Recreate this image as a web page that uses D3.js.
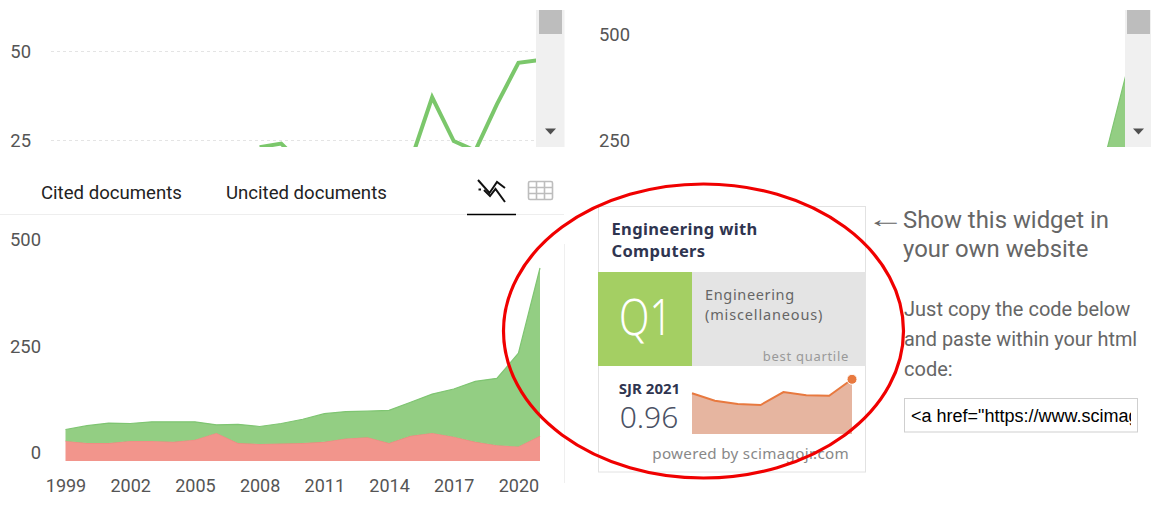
<!DOCTYPE html>
<html><head><meta charset="utf-8">
<script src="https://cdn.jsdelivr.net/npm/d3@7"></script>
<style>
html,body{margin:0;padding:0;background:#fff;overflow:hidden}
svg{display:block}
text{font-family:Roboto,sans-serif}
.w{font-family:"Noto Sans",sans-serif}
</style></head><body>
<svg id="c" width="1151" height="506"></svg>
<script>
const years=[1999,2000,2001,2002,2003,2004,2005,2006,2007,2008,2009,2010,2011,2012,2013,2014,2015,2016,2017,2018,2019,2020,2021];
const uncited=[47,42,42,47,47,45,50,66,42,40,41,42,45,53,56,42,59,66,57,45,37,34,59];
const cited=[27,41,47,41,45,47,42,19,44,41,47,56,66,63,61,77,79,91,112,142,157,219,394];
const yearTicks=[1999,2002,2005,2008,2011,2014,2017,2020];
const collabYears=[2008,2009,2010,2011,2012,2013,2014,2015,2016,2017,2018,2019,2020,2021];
const collabValues=[23,24,18,18,19,20,17,19,37,24.7,22,35,46.7,47.5];
const collabTicks=[25,50];
const docTicks=[0,250,500];
const sjrYears=[2014,2015,2016,2017,2018,2019,2020,2021];
const sjrValues=[0.714,0.585,0.526,0.509,0.737,0.68,0.67,0.96];
const tabs=["Cited documents","Uncited documents"];

const svg=d3.select("#c");
const defs=svg.append("defs");
const x=d3.scaleLinear().domain([1999,2021]).range([65.5,540]);
const y=d3.scaleLinear().domain([0,500]).range([461,248]);
const rows=years.map((yr,i)=>({yr,uncited:uncited[i],cited:cited[i]}));
const stack=d3.stack().keys(["uncited","cited"])(rows);
const area=d3.area().x(d=>x(d.data.yr)).y0(d=>y(d[0])).y1(d=>y(d[1]));
const topLine=d3.line().x(d=>x(d.data.yr)).y(d=>y(d[1]));
const colors={uncited:["#f2958c","#ee8a80"],cited:["#93ce83","#7fc572"]};

function drawStack(g){
  stack.forEach(s=>{
    g.append("path").datum(s).attr("d",area).attr("fill",colors[s.key][0]);
    g.append("path").datum(s).attr("d",topLine).attr("fill","none").attr("stroke",colors[s.key][1]).attr("stroke-width",1.2);
  });
}
function yAxis(g,scale,ticks){
  g.call(d3.axisLeft(scale).tickValues(ticks).tickSize(0).tickFormat(d3.format("d")));
  g.select(".domain").remove();
  g.selectAll("text").attr("x",0).attr("dy","0.36em").attr("text-anchor","end")
    .attr("fill","#555").style("font-family","Roboto,sans-serif").style("font-size","18.4px");
}
function scrollbar(x0,x1,thumb0,thumb1){
  svg.append("rect").attr("x",x0).attr("y",10).attr("width",x1-x0).attr("height",137).attr("fill","#f0f0f0");
  svg.append("rect").attr("x",thumb0).attr("y",10).attr("width",thumb1-thumb0).attr("height",24).attr("fill","#bdbdbd");
  const c=(thumb0+thumb1)/2;
  svg.append("path").attr("d",`M${c-5.5} 128.5H${c+5.5}L${c} 134.5Z`).attr("fill","#505050");
}

/* top-left partial line chart */
const yTop=d3.scaleLinear().domain([25,50]).range([140,51]);
const tl=svg.append("g");
tl.selectAll("line").data(collabTicks).join("line")
  .attr("x1",51).attr("x2",536).attr("y1",d=>yTop(d)+.5).attr("y2",d=>yTop(d)+.5)
  .attr("stroke","#e4e4e4").attr("stroke-dasharray","3 3");
defs.append("clipPath").attr("id","cl").append("rect").attr("x",0).attr("y",0).attr("width",536).attr("height",147);
tl.append("path").attr("clip-path","url(#cl)")
  .attr("d",d3.line().x((d,i)=>x(collabYears[i])).y(d=>yTop(d))(collabValues))
  .attr("fill","none").attr("stroke","#7bc76b").attr("stroke-width",4);
yAxis(svg.append("g").attr("transform","translate(31,0)"),yTop,collabTicks);
scrollbar(536,564.5,539,562);

/* top-right partial area chart */
defs.append("clipPath").attr("id","cr").append("rect").attr("x",0).attr("y",0).attr("width",1125).attr("height",147);
const tr=svg.append("g").attr("clip-path","url(#cr)").append("g").attr("transform","translate(589,-205.5)");
drawStack(tr);
yAxis(svg.append("g").attr("transform","translate(630,-214.5)"),y,[250,500]);
scrollbar(1125,1151,1127,1150);

/* tabs */
const tabX=[41,226];
svg.selectAll(".tab").data(tabs).join("text").attr("class","tab")
  .attr("x",(d,i)=>tabX[i]).attr("y",199).attr("fill","#222").style("font-size","18.6px").text(d=>d);
svg.append("line").attr("x1",0).attr("x2",564).attr("y1",214.5).attr("y2",214.5).attr("stroke","#eeeeee");
svg.append("line").attr("x1",467).attr("x2",516).attr("y1",214.5).attr("y2",214.5).attr("stroke","#000").attr("stroke-width",1.4);
const ic=svg.append("g").attr("fill","none").attr("stroke","#111").attr("stroke-width",2);
ic.append("path").attr("d","M478 180L489.5 193L497 182L505 188");
ic.append("path").attr("d","M484 190L490 196L495.5 189L505 202");
ic.append("path").attr("d","M478.5 189.5H481");
const gi=svg.append("g").attr("fill","none").attr("stroke","#bdbdbd").attr("stroke-width",1.6);
gi.append("rect").attr("x",528.5).attr("y",181.5).attr("width",24).attr("height",18).attr("rx",1.5);
gi.append("path").attr("d","M528.5 187.5H552.5M528.5 193.5H552.5M536.5 181.5V199.5M544.5 181.5V199.5");

/* bottom full chart */
drawStack(svg.append("g"));
yAxis(svg.append("g").attr("transform","translate(41,-9)"),y,docTicks);
const xa=svg.append("g").attr("transform","translate(0,475)")
  .call(d3.axisBottom(x).tickValues(yearTicks).tickSize(0).tickFormat(d3.format("d")));
xa.select(".domain").remove();
xa.selectAll("text").attr("y",0).attr("dy","0.95em").attr("fill","#555").style("font-family","Roboto,sans-serif").style("font-size","18px");
svg.append("line").attr("x1",564.5).attr("x2",564.5).attr("y1",244).attr("y2",483).attr("stroke","#efefef");

/* widget */
const w=svg.append("g");
w.append("rect").attr("x",598.5).attr("y",206.5).attr("width",267).attr("height",265.5).attr("fill","#fff").attr("stroke","#e2e2e2");
w.append("rect").attr("x",598).attr("y",272).attr("width",94).attr("height",94).attr("fill","#a4cf63");
w.append("rect").attr("x",692).attr("y",272).attr("width",174).attr("height",94).attr("fill","#e4e4e4");
const wt=(s,xx,yy,size,fill,weight,anchor,ls)=>w.append("text").attr("class","w").attr("x",xx).attr("y",yy).attr("fill",fill)
  .attr("text-anchor",anchor||"start").style("font-size",size+"px").style("font-weight",weight||400).style("letter-spacing",(ls||0)+"px").text(s);
wt("Engineering with",611.5,235,16.5,"#2f3550",700,"start",.35);
wt("Computers",611.5,257,16.5,"#2f3550",700,"start",.35);
wt("Q1",619,335,49,"#fff",300).attr("textLength",53).attr("lengthAdjust","spacingAndGlyphs");
wt("Engineering",705,300,14.5,"#666",400,"start",.65);
wt("(miscellaneous)",705,320,14.5,"#666",400,"start",.85);
wt("best quartile",849,361,13,"#999",400,"end",.7);
wt("SJR 2021",649.5,394,15,"#2f3550",700,"middle");
wt("0.96",649,428,30,"#4a5164",300,"middle");
wt("powered by scimagojr.com",849,459,15.2,"#888",400,"end",.3);
const sx=d3.scalePoint().domain(sjrYears).range([692,852]);
const sy=d3.scaleLinear().domain([0,0.96]).range([434,379.3]);
w.append("path").attr("d",d3.area().x((d,i)=>sx(sjrYears[i])).y0(sy(0)).y1(d=>sy(d))(sjrValues)).attr("fill","#e6b5a0");
w.append("path").attr("d",d3.line().x((d,i)=>sx(sjrYears[i])).y(d=>sy(d))(sjrValues)).attr("fill","none").attr("stroke","#e8793f").attr("stroke-width",2);
w.append("circle").attr("cx",sx(2021)).attr("cy",sy(0.96)).attr("r",5).attr("fill","#e8793f").attr("stroke","#fff").attr("stroke-width",1);

/* side text */
const sd=(s,xx,yy,size)=>svg.append("text").attr("x",xx).attr("y",yy).attr("fill","#666").style("font-size",size+"px").text(s);
sd("←",866.7,227,24).style("font-family","'Liberation Sans',sans-serif").attr("textLength",37.7).attr("lengthAdjust","spacingAndGlyphs");
sd("Show this widget in",903,228,23.9);
sd("your own website",903,257,23.9);
sd("Just copy the code below",904,316,20);
sd("and paste within your html",904,346,19.9);
sd("code:",904,376,20);
svg.append("rect").attr("x",904.5).attr("y",398.5).attr("width",233).attr("height",33.5).attr("fill","#fff").attr("stroke","#cfcfcf");
defs.append("clipPath").attr("id","ci").append("rect").attr("x",905).attr("y",399).attr("width",226).attr("height",33);
svg.append("text").attr("clip-path","url(#ci)").attr("x",911).attr("y",422).attr("fill","#000")
  .style("font-family","'Liberation Sans',Arial,sans-serif").style("font-size","18px").text('<a href="https://www.scimag');

/* hand-drawn red ellipse */
svg.append("ellipse").attr("cx",703.5).attr("cy",331).attr("rx",200).attr("ry",147).attr("fill","none").attr("stroke","#f00000").attr("stroke-width",3.2);
</script></body></html>
